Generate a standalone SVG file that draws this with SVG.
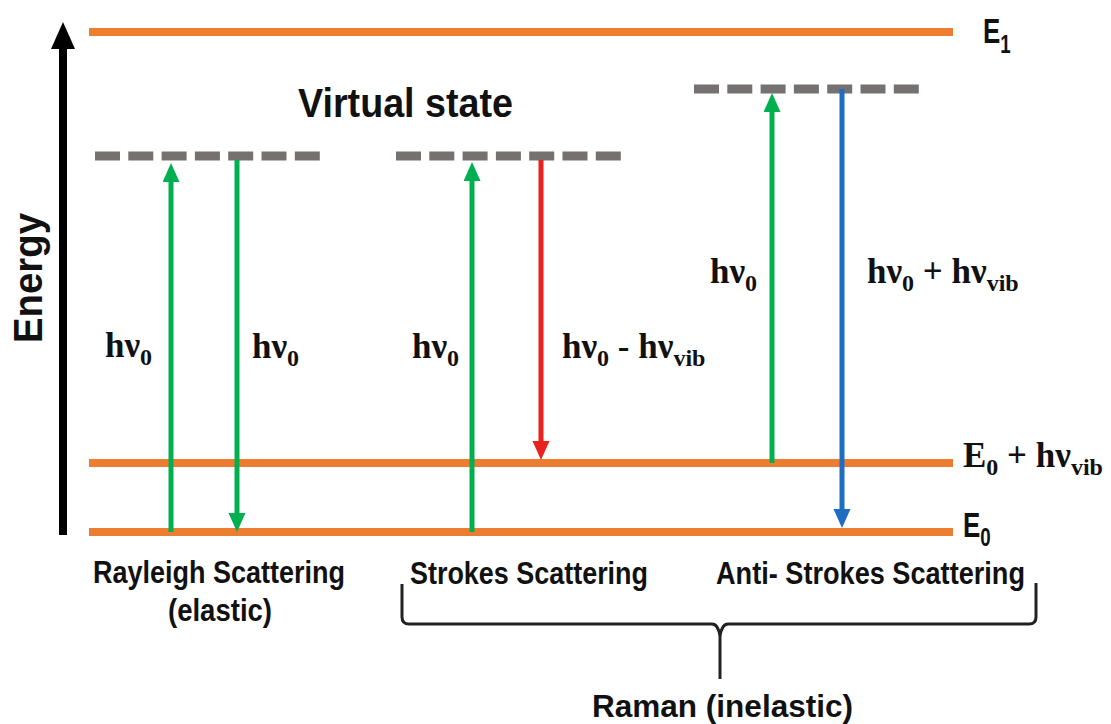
<svg xmlns="http://www.w3.org/2000/svg" width="1111" height="724" viewBox="0 0 1111 724">
<style>
.lvl{stroke:#ED7D31;stroke-width:8;fill:none}
.vs{stroke:#767171;stroke-width:9;stroke-dasharray:25 8.3;fill:none}
.sans{font-family:"Liberation Sans",Arial,sans-serif;font-weight:700;fill:#111}
.serif{font-family:"Liberation Serif","Times New Roman",serif;font-weight:700;fill:#111;font-size:35px}
.arr{stroke-width:5;fill:none}
.g{stroke:#00B050}
.r{stroke:#E8221F}
.b{stroke:#1F6DC0}
</style>
<defs>
<marker id="mg" markerUnits="userSpaceOnUse" markerWidth="20" markerHeight="18" refX="4" refY="8.5" orient="auto"><path d="M0,0 L19,8.5 L0,17 z" fill="#00B050"/></marker>
<marker id="mr" markerUnits="userSpaceOnUse" markerWidth="20" markerHeight="18" refX="4" refY="8.5" orient="auto"><path d="M0,0 L19,8.5 L0,17 z" fill="#E8221F"/></marker>
<marker id="mb" markerUnits="userSpaceOnUse" markerWidth="20" markerHeight="18" refX="4" refY="8.5" orient="auto"><path d="M0,0 L19,8.5 L0,17 z" fill="#1F6DC0"/></marker>
<marker id="mk" markerUnits="userSpaceOnUse" markerWidth="28" markerHeight="26" refX="5" refY="12" orient="auto"><path d="M0,0 L27,12 L0,24 z" fill="#000"/></marker>
</defs>
<rect width="1111" height="724" fill="#fff"/>

<g id="energy-axis">
<line x1="63" y1="535" x2="63" y2="44" stroke="#000" stroke-width="8" marker-end="url(#mk)"/>
<text class="sans" font-size="40" transform="translate(42,343) rotate(-90)" textLength="130" lengthAdjust="spacingAndGlyphs">Energy</text>
</g>

<g id="level-E1">
<line class="lvl" x1="89" y1="32" x2="953" y2="32"/>
<text class="sans" font-size="36" transform="translate(983,43) scale(0.72,1)">E<tspan font-size="26" dy="10">1</tspan></text>
</g>
<g id="level-E0-vib">
<line class="lvl" x1="89" y1="463" x2="953" y2="463"/>
<text class="serif" x="963" y="467">E<tspan font-size="24" dy="8">0</tspan><tspan dy="-8"> + hν</tspan><tspan font-size="24" dy="8">vib</tspan></text>
</g>
<g id="level-E0">
<line class="lvl" x1="89" y1="532" x2="953" y2="532"/>
<text class="sans" font-size="36" transform="translate(963,537) scale(0.72,1)">E<tspan font-size="26" dy="9">0</tspan></text>
</g>

<g id="virtual-states">
<text class="sans" font-size="40" x="298" y="117" textLength="215" lengthAdjust="spacingAndGlyphs">Virtual state</text>
<line class="vs" x1="95" y1="156" x2="320" y2="156"/>
<line class="vs" x1="396" y1="156" x2="621" y2="156"/>
<line class="vs" x1="694" y1="89" x2="919" y2="89"/>
</g>

<g id="connectors">
<line class="arr g" x1="171" y1="532" x2="171" y2="178" marker-end="url(#mg)"/>
<line class="arr g" x1="237" y1="160" x2="237" y2="517" marker-end="url(#mg)"/>
<line class="arr g" x1="472" y1="532" x2="472" y2="177" marker-end="url(#mg)"/>
<line class="arr r" x1="541" y1="160" x2="541" y2="445" marker-end="url(#mr)"/>
<line class="arr g" x1="772" y1="463" x2="772" y2="108" marker-end="url(#mg)"/>
<line class="arr b" x1="842" y1="89" x2="842" y2="513" marker-end="url(#mb)"/>
</g>

<g id="labels-rayleigh">
<text class="serif" x="105" y="357">hν<tspan font-size="24" dy="8">0</tspan></text>
<text class="serif" x="252" y="358">hν<tspan font-size="24" dy="8">0</tspan></text>
<text class="sans" font-size="32" x="93" y="583" textLength="252" lengthAdjust="spacingAndGlyphs">Rayleigh Scattering</text>
<text class="sans" font-size="32" x="168" y="621" textLength="104" lengthAdjust="spacingAndGlyphs">(elastic)</text>
</g>

<g id="labels-stokes">
<text class="serif" x="412" y="358">hν<tspan font-size="24" dy="8">0</tspan></text>
<text class="serif" x="562" y="358">hν<tspan font-size="24" dy="8">0</tspan><tspan dy="-8"> - hν</tspan><tspan font-size="24" dy="8">vib</tspan></text>
<text class="sans" font-size="32" x="410" y="584" textLength="238" lengthAdjust="spacingAndGlyphs">Strokes Scattering</text>
</g>

<g id="labels-antistokes">
<text class="serif" x="710" y="283">hν<tspan font-size="24" dy="8">0</tspan></text>
<text class="serif" x="867" y="283">hν<tspan font-size="24" dy="8">0</tspan><tspan dy="-8"> + hν</tspan><tspan font-size="24" dy="8">vib</tspan></text>
<text class="sans" font-size="32" x="716" y="584" textLength="309" lengthAdjust="spacingAndGlyphs">Anti- Strokes Scattering</text>
</g>

<g id="raman-brace">
<path d="M402,584 L402,617 Q402,624 409,624 L712,624 Q718,624 720,636 Q722,624 728,624 L1029,624 Q1036,624 1036,617 L1036,583 M720,636 L720,679" fill="none" stroke="#222" stroke-width="3"/>
<text class="sans" font-size="32" x="592" y="717" textLength="261" lengthAdjust="spacingAndGlyphs">Raman (inelastic)</text>
</g>
</svg>
